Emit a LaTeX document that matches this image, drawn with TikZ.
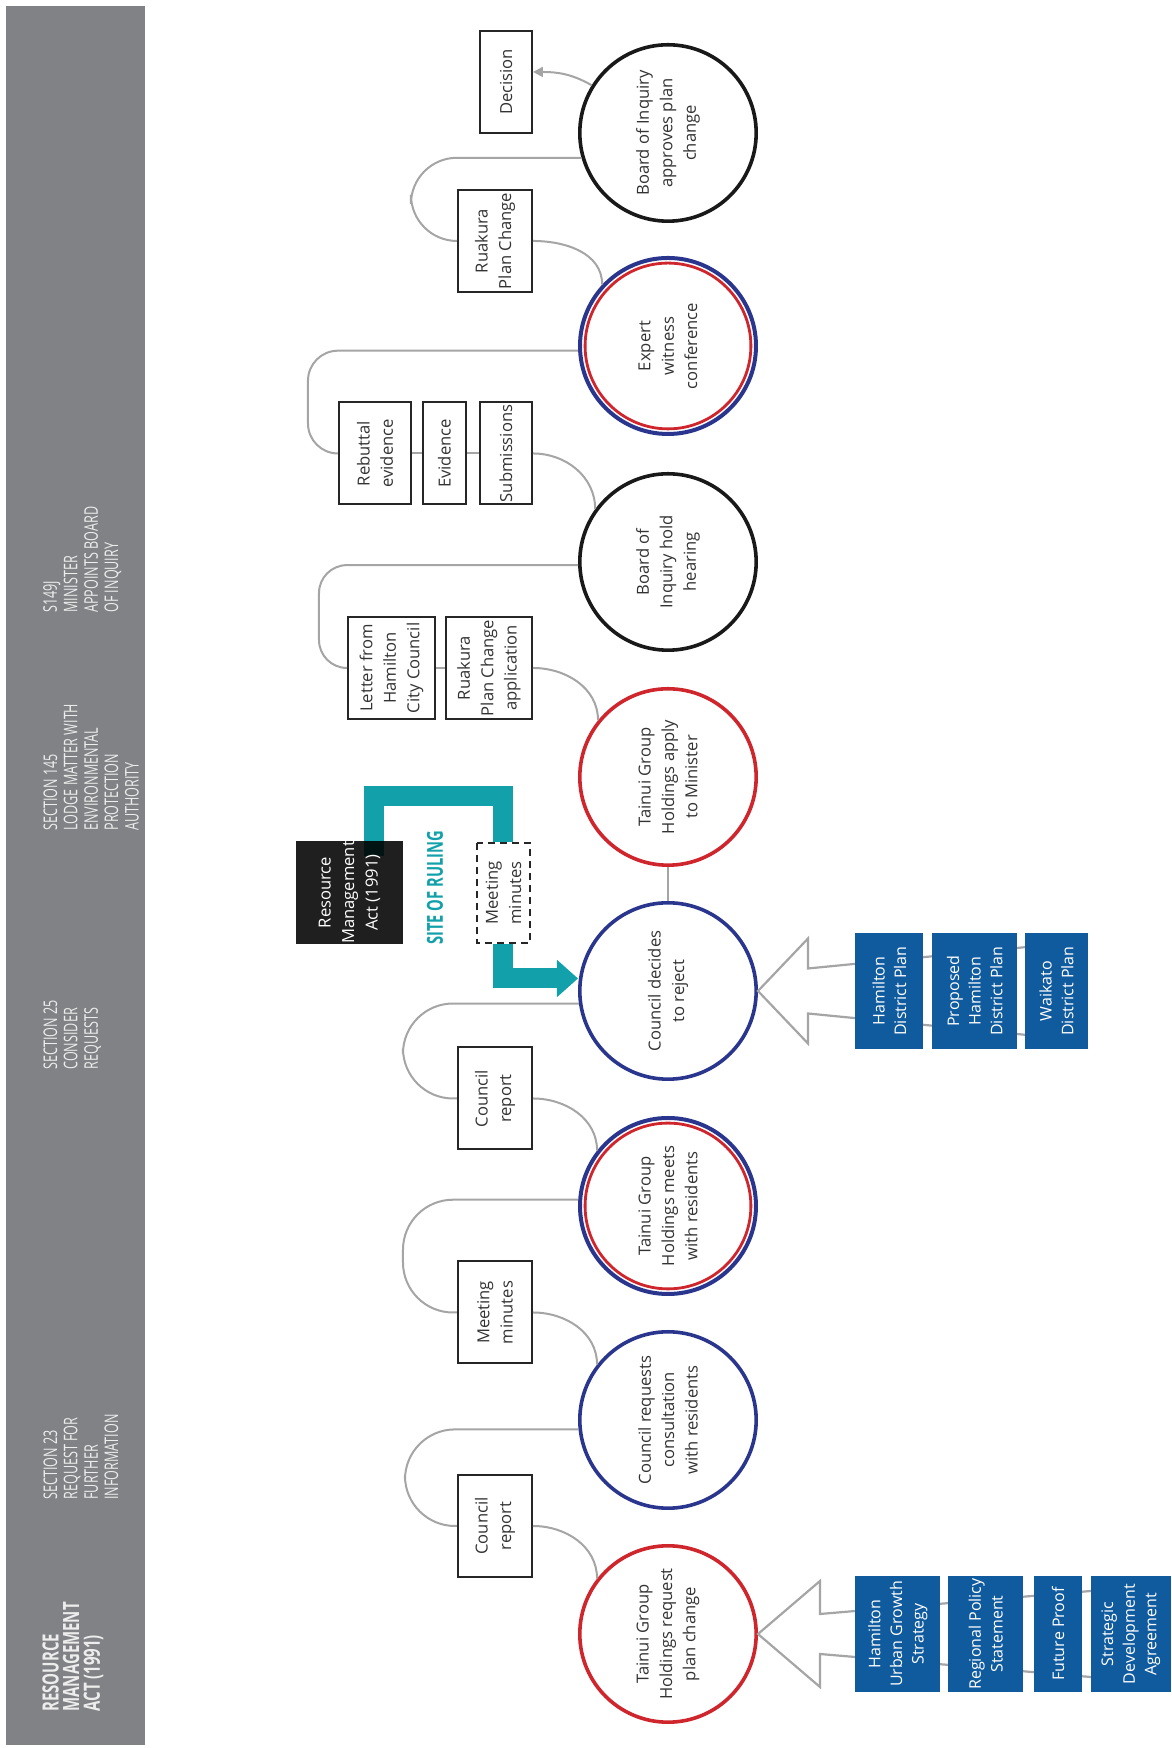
\documentclass[tikz,border=0pt]{standalone}
\usepackage{fontspec}
\setmainfont{Open Sans}
\newfontfamily\headfont[FakeStretch=0.67]{Open Sans}
\usetikzlibrary{positioning,arrows.meta,backgrounds}

\definecolor{bandgray}{RGB}{128,130,133}
\definecolor{tgred}{RGB}{206,38,44}
\definecolor{councilblue}{RGB}{42,54,142}
\definecolor{planblue}{RGB}{16,90,158}
\definecolor{rulingteal}{RGB}{18,161,170}
\definecolor{linkgray}{RGB}{165,165,165}

\tikzset{
  head/.style={anchor=north west, inner sep=0pt, align=left, text=white!93!black,
    font=\headfont\fontsize{9.4}{10.2}\selectfont},
  stage/.style={circle, minimum size=88.2pt, inner sep=0pt, line width=1.8pt, fill=white,
    align=center, text=black!80, font=\fontsize{8.3}{11.7}\selectfont},
  dualring/.style={stage, draw=councilblue, line width=2pt, minimum size=88pt,
    path picture={\draw[tgred, line width=1.4pt] (path picture bounding box.center) circle[radius=41.45pt];}},
  doc/.style={draw=black!85, line width=1pt, fill=white, anchor=south, minimum width=51pt,
    minimum height=37pt, inner sep=1pt, align=center, text=black!80,
    font=\fontsize{8.3}{11.7}\selectfont},
  plan/.style={fill=planblue, text=white, minimum width=58pt, inner sep=1pt, align=center,
    font=\fontsize{8}{10.8}\selectfont},
  link/.style={draw=linkgray, line width=1pt},
  blockarrow/.style={draw=linkgray, line width=1.1pt, fill=white},
  ruling/.style={draw=rulingteal, line width=10pt},
}

\begin{document}
\begin{tikzpicture}[rotate=90, transform shape, x=0.5pt, y=0.5pt]
  \useasboundingbox (0,0) rectangle (1748,1171);

  % header band
  \fill[bandgray] (3,1026) rectangle (1742,1165);
  \node[head, font=\headfont\bfseries\fontsize{11.2}{10.3}\selectfont] (hrma) at (36,1129)
    {RESOURCE\\MANAGEMENT\\ACT (1991)};
  \node[head] (h23) at (248,1128) {SECTION 23\\REQUEST FOR\\FURTHER\\INFORMATION};
  \node[head] (h25) at (678,1128) {SECTION 25\\CONSIDER\\REQUESTS};
  \node[head] (h145) at (917,1128) {SECTION 145\\LODGE MATTER WITH\\ENVIRONMENTAL\\PROTECTION\\AUTHORITY};
  \node[head] (h149) at (1135,1128) {S149J\\MINISTER\\APPOINTS BOARD\\OF INQUIRY};

  % stages
  \node[stage, draw=tgred] (request) at (114,503) {Tainui Group\\Holdings request\\plan change};
  \node[stage, draw=councilblue] (consult) at (328,503) {Council requests\\consultation\\with residents};
  \node[dualring] (meets) at (542,503) {Tainui Group\\Holdings meets\\with residents};
  \node[stage, draw=councilblue] (reject) at (757,503) {Council decides\\to reject};
  \node[stage, draw=tgred] (apply) at (971,503) {Tainui Group\\Holdings apply\\to Minister};
  \node[stage, draw=black!90] (hearing) at (1186,503) {Board of\\Inquiry hold\\hearing};
  \node[dualring] (conference) at (1402,503) {Expert\\witness\\conference};
  \node[stage, draw=black!90] (approve) at (1615,503) {Board of Inquiry\\approves plan\\change};

  % documents
  \node[doc] (report1) at (222,638) {Council\\report};
  \node[doc] (minutes1) at (435.5,638) {Meeting\\minutes};
  \node[doc] (report2) at (649.5,638) {Council\\report};
  \node[doc, minimum height=43pt] (application) at (1080,638) {Ruakura\\Plan Change\\application};
  \node[doc, minimum height=43.5pt, above=4.5pt of application] (letter) {Letter from\\Hamilton\\City Council};
  \node[doc, minimum height=26pt] (submissions) at (1294.5,638) {Submissions};
  \node[doc, minimum height=21.5pt, above=6pt of submissions] (evidence) {Evidence};
  \node[doc, minimum height=36pt, above=5pt of evidence] (rebuttal) {Rebuttal\\evidence};
  \node[doc] (planchange) at (1507,638) {Ruakura\\Plan Change};
  \node[doc, minimum height=26pt] (decision) at (1666,638) {Decision};

  % plans pushing into the two decisions
  \draw[blockarrow] (request.south) -- ++(53,-62) -- ++(-33,0) -- ++(26,-306)
    -- ++(-92,0) -- ++(26,306) -- ++(-33,0) -- cycle;
  \draw[blockarrow] (reject.south) -- ++(52.5,-50) -- ++(-30,0) -- ++(24,-244.5)
    -- ++(-93,0) -- ++(24,244.5) -- ++(-30,0) -- cycle;
  \node[plan, minimum height=42.5pt, below=48.5pt of request] (hugs) {Hamilton\\Urban Growth\\Strategy};
  \node[plan, minimum height=37.5pt, below=3.5pt of hugs] (rps) {Regional Policy\\Statement};
  \node[plan, minimum height=24pt, below=5pt of rps] (futureproof) {Future Proof};
  \node[plan, minimum height=40pt, below=4pt of futureproof] (sda) {Strategic\\Development\\Agreement};
  \node[plan, minimum height=34pt, below=48.5pt of reject] (hdp) {Hamilton\\District Plan};
  \node[plan, minimum height=42.5pt, below=4pt of hdp] (phdp) {Proposed\\Hamilton\\District Plan};
  \node[plan, minimum height=31.5pt, below=3.5pt of phdp] (wdp) {Waikato\\District Plan};

  % links
  \draw[link] (request.52) to[out=0, in=-90] (report1.south);
  \draw[link, rounded corners=25pt] (report1.north) -- ++(0,52) -| (consult.96);
  \draw[link] (consult.52) to[out=0, in=-90] (minutes1.south);
  \draw[link, rounded corners=25pt] (minutes1.north) -- ++(0,54) -| (meets.86);
  \draw[link] (meets.52) to[out=0, in=-90] (report2.south);
  \draw[link, rounded corners=25pt] (report2.north) -- ++(0,54) -| (reject.98);
  \draw[link] (reject.east) -- (apply.west);
  \draw[link] (apply.51) to[out=0, in=-90] (application.south);
  \draw[link] (application.north) -- (letter.south);
  \draw[link, rounded corners=14pt] (letter.north) -- ++(0,28) -| (hearing.92);
  \draw[link] (hearing.54) to[out=0, in=-90] (submissions.south);
  \draw[link] (submissions.north) -- (evidence.south);
  \draw[link] (evidence.north) -- (rebuttal.south);
  \draw[link, rounded corners=15pt] (rebuttal.north) -- ++(0,30) -| (conference.93);
  \draw[link] (conference.47) to[out=0, in=-90] (planchange.south);
  \draw[link, rounded corners=23pt] (planchange.north) -- ++(0,46) -| (approve.106);
  \draw[link, -{Triangle[length=5pt,width=5pt]}] (approve.58) to[out=60, in=-90] ([xshift=5pt]decision.south);

  % site of ruling
  \node[fill=black, fill opacity=0.88, text opacity=1, text=white, minimum width=50.5pt,
    minimum height=53.5pt, inner sep=0pt, align=center, font=\fontsize{8.3}{11.7}\selectfont]
    (rma) at (855.5,821.5) {Resource\\Management\\Act (1991)};
  \node[doc, anchor=center, dashed, dash pattern=on 3.5pt off 2.5pt, minimum width=50pt,
    minimum height=26.5pt] (minutes2) at (855,667.5) {Meeting\\minutes};
  \node[inner sep=0pt, text=rulingteal, font=\headfont\bfseries\fontsize{11}{11}\selectfont]
    (ruling) at (860,736) {SITE OF RULING};
  \begin{scope}[on background layer]
    \fill[white] (0,0) rectangle (1748,1171);
    \draw[ruling] ([xshift=-7.5pt,yshift=-12.5pt]rma.east) -- ++(59.5,0) |- (minutes2.east);
    \draw[ruling, -{Triangle[length=10.5pt,width=18pt]}] (minutes2.west) -| ([xshift=6.25pt]reject.north);
  \end{scope}
\end{tikzpicture}
\end{document}
